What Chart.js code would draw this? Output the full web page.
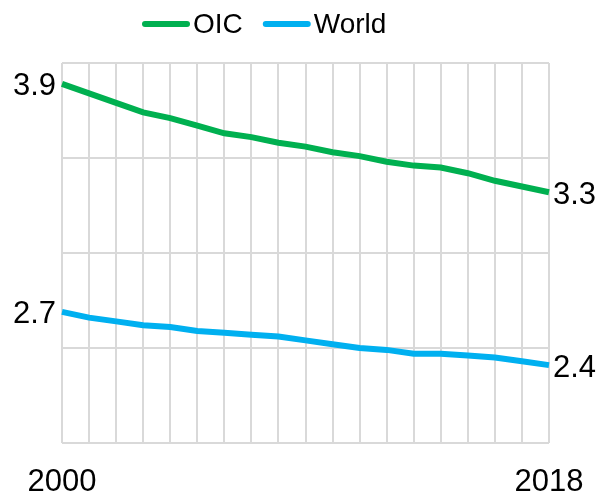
<!DOCTYPE html>
<html>
<head>
<meta charset="utf-8">
<script src="https://cdn.jsdelivr.net/npm/chart.js@4.4.1/dist/chart.umd.min.js"></script>
<style>
  html, body { margin: 0; padding: 0; background: #fff; }
  #wrap { width: 610px; height: 497px; }
</style>
</head>
<body>
<div id="wrap"><canvas id="chart" width="610" height="497"></canvas></div>
<script>
const years = ['2000', '2001', '2002', '2003', '2004', '2005', '2006', '2007', '2008', '2009',
  '2010', '2011', '2012', '2013', '2014', '2015', '2016', '2017', '2018'];
const shownYears = ['2000', '2018'];

const oicValues = [3.89, 3.84, 3.79, 3.74, 3.71, 3.67, 3.63, 3.61, 3.58, 3.56,
  3.53, 3.51, 3.48, 3.46, 3.45, 3.42, 3.38, 3.35, 3.32];
const worldValues = [2.69, 2.66, 2.64, 2.62, 2.61, 2.59, 2.58, 2.57, 2.56, 2.54,
  2.52, 2.50, 2.49, 2.47, 2.47, 2.46, 2.45, 2.43, 2.41];

const endLabels = { OIC: ['3.9', '3.3'], World: ['2.7', '2.4'] };

const FONT = 'Liberation Sans, Arial, sans-serif';

// legend line + text at the top
const legendPlugin = {
  id: 'topLegend',
  afterDraw(chart) {
    const ctx = chart.ctx;
    ctx.save();
    ctx.font = '28px ' + FONT;
    ctx.textBaseline = 'middle';
    let x = 142;
    const y = 24;
    chart.data.datasets.forEach((ds) => {
      ctx.strokeStyle = ds.borderColor;
      ctx.lineWidth = 6;
      ctx.lineCap = 'round';
      ctx.beginPath();
      ctx.moveTo(x + 3, y);
      ctx.lineTo(x + 45, y);
      ctx.stroke();
      ctx.fillStyle = '#000';
      ctx.fillText(ds.label, x + 51, y + 1);
      x += 51 + ctx.measureText(ds.label).width + 20;
    });
    ctx.restore();
  }
};

// first and last value labels
const endLabelPlugin = {
  id: 'endLabels',
  afterDatasetsDraw(chart) {
    const ctx = chart.ctx;
    ctx.save();
    ctx.font = '31px ' + FONT;
    ctx.fillStyle = '#000';
    ctx.textBaseline = 'middle';
    chart.data.datasets.forEach((ds, i) => {
      const pts = chart.getDatasetMeta(i).data;
      const first = pts[0];
      const last = pts[pts.length - 1];
      const labels = endLabels[ds.label];
      ctx.textAlign = 'right';
      ctx.fillText(labels[0], first.x - 6, first.y + 3);
      ctx.textAlign = 'left';
      ctx.fillText(labels[1], last.x + 4, last.y + 3);
    });
    ctx.restore();
  }
};

new Chart(document.getElementById('chart'), {
  type: 'line',
  data: {
    labels: years,
    datasets: [
      {
        label: 'OIC',
        data: oicValues,
        borderColor: '#00b050',
        borderWidth: 6,
        pointRadius: 0,
        tension: 0,
        fill: false
      },
      {
        label: 'World',
        data: worldValues,
        borderColor: '#00b0f0',
        borderWidth: 6,
        pointRadius: 0,
        tension: 0,
        fill: false
      }
    ]
  },
  options: {
    responsive: false,
    animation: false,
    layout: { padding: { left: 62, right: 61, top: 63, bottom: 0 } },
    plugins: {
      legend: { display: false },
      tooltip: { enabled: false }
    },
    scales: {
      x: {
        offset: false,
        afterFit(scale) { scale.height = 54; },
        grid: { color: '#d9d9d9', lineWidth: 2, drawTicks: false },
        border: { display: false },
        ticks: {
          autoSkip: false,
          maxRotation: 0,
          padding: 21,
          color: '#000',
          font: { family: FONT, size: 31 },
          callback: function (val) {
            const lab = this.getLabelForValue(val);
            return shownYears.includes(lab) ? lab : '';
          }
        }
      },
      y: {
        min: 2,
        max: 4,
        grid: { color: '#d9d9d9', lineWidth: 2, drawTicks: false },
        border: { display: false },
        ticks: { display: false, stepSize: 0.5 }
      }
    }
  },
  plugins: [legendPlugin, endLabelPlugin]
});
</script>
</body>
</html>
